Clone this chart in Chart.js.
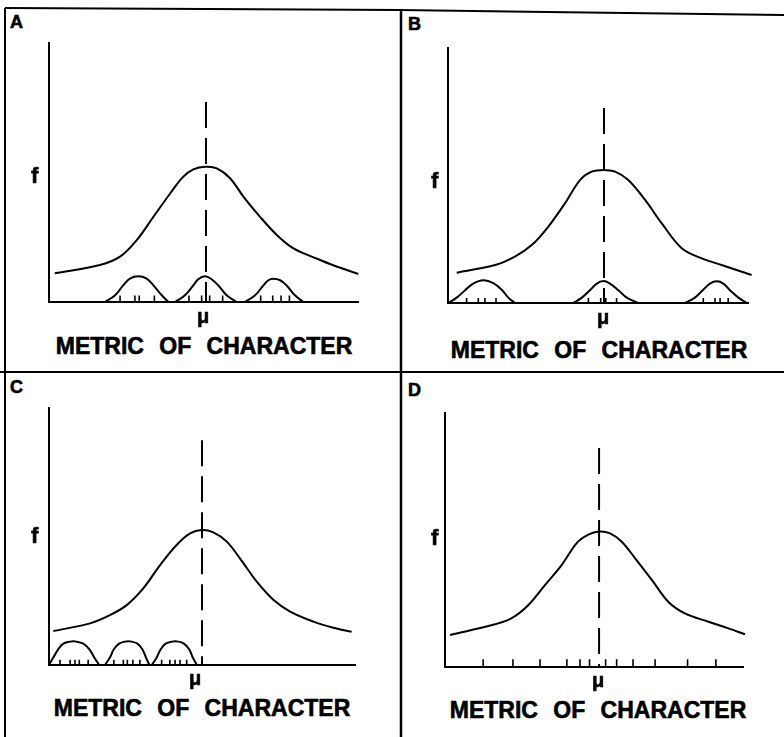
<!DOCTYPE html>
<html><head><meta charset="utf-8">
<script src="https://cdn.jsdelivr.net/npm/chart.js@4/dist/chart.umd.min.js"></script>
<style>
html,body{margin:0;padding:0;background:#fff;}
#wrap{position:relative;width:784px;height:737px;overflow:hidden;font-family:"Liberation Sans",Arial,sans-serif;font-weight:bold;color:#000;}
canvas{position:absolute;}
svg{position:absolute;left:0;top:0;}
.lbl{position:absolute;line-height:1;white-space:nowrap;-webkit-text-stroke:0.6px #000;}
.panel{font-size:18px;}
.f{font-size:22px;}
.mu{font-size:20px;transform:translateX(-50%);}
.title{font-size:23px;word-spacing:9px;transform:translateX(-50%);}
</style></head>
<body>
<div id="wrap">
<svg width="784" height="737">
  <polyline points="5,8 400,10 784,15" fill="none" stroke="#000" stroke-width="2"/>
  <line x1="5" y1="8" x2="5" y2="737" stroke="#000" stroke-width="2"/>
  <line x1="401" y1="9" x2="401" y2="737" stroke="#000" stroke-width="2.5"/>
  <line x1="0" y1="372" x2="784" y2="372" stroke="#000" stroke-width="2"/>
</svg>
<canvas id="cA"></canvas><canvas id="cB"></canvas><canvas id="cC"></canvas><canvas id="cD"></canvas>
<div class="lbl panel" style="left:10px;top:13px">A</div>
<div class="lbl panel" style="left:408px;top:15px">B</div>
<div class="lbl panel" style="left:10px;top:378px">C</div>
<div class="lbl panel" style="left:408px;top:381px">D</div>
<div class="lbl f" style="left:31px;top:165px">f</div>
<div class="lbl f" style="left:431px;top:170px">f</div>
<div class="lbl f" style="left:31px;top:525px">f</div>
<div class="lbl f" style="left:431px;top:527px">f</div>
<div class="lbl mu" style="left:203px;top:306px">μ</div>
<div class="lbl mu" style="left:603px;top:307px">μ</div>
<div class="lbl mu" style="left:195px;top:668px">μ</div>
<div class="lbl mu" style="left:598px;top:670px">μ</div>
<div class="lbl title" style="left:204px;top:335px">METRIC OF CHARACTER</div>
<div class="lbl title" style="left:599px;top:339px">METRIC OF CHARACTER</div>
<div class="lbl title" style="left:202px;top:697px">METRIC OF CHARACTER</div>
<div class="lbl title" style="left:598px;top:699px">METRIC OF CHARACTER</div>
</div>
<script>
// ---------- Panel A ----------
const curveA_x = [1.9, 16.5, 23.0, 28.4, 33.8, 39.2, 43.4, 46.7, 50.7, 54.3, 58.6, 62.9, 68.3, 73.8, 79.1, 86.6, 92.0, 100.1];
const curveA_y = [11.1, 14.3, 17.5, 23.9, 32.9, 41.9, 48.3, 51.2, 52.2, 51.6, 47.8, 40.7, 32.9, 25.8, 20.7, 16.8, 14.2, 10.8];
const bumpsA_x = [[18.1, 21.4, 24.0, 26.2, 28.9, 31.6, 33.8, 36.5, 38.6],
                  [40.8, 44.0, 46.7, 48.3, 50.5, 52.6, 54.8, 57.5, 60.7],
                  [63.4, 66.7, 69.4, 71.0, 72.6, 74.8, 76.9, 79.6, 82.3]];
const bumpsA_y = [[0, 2.6, 6.4, 9.0, 9.9, 9.0, 6.4, 2.6, 0],
                  [0, 2.6, 6.4, 8.8, 9.9, 8.8, 6.4, 2.6, 0],
                  [0, 2.6, 6.4, 8.4, 9.0, 8.4, 6.4, 2.6, 0]];
const ticksA = [23.0, 27.8, 29.2, 34.1, 45.3, 49.4, 52.0, 56.2, 68.5, 72.4, 75.1, 77.8];
const tickHeightA = 2.5;
const muA = 50.8;
const dashTopA = 77.2;

// ---------- Panel B ----------
const curveB_x = [2.9, 15.7, 22.3, 27.9, 33.4, 39.0, 44.0, 47.9, 51.8, 55.7, 60.1, 65.7, 71.2, 77.9, 84.6, 91.2, 101.2];
const curveB_y = [11.9, 14.9, 18.2, 22.7, 29.9, 39.1, 48.2, 51.5, 52.2, 51.5, 48.2, 40.4, 31.3, 21.5, 17.5, 14.9, 11.0];
const bumpsB_x = [[0.1, 2.9, 5.7, 8.4, 11.8, 15.1, 17.9, 20.1, 22.3],
                  [41.8, 44.6, 47.3, 49.6, 51.8, 54.0, 56.8, 59.6, 63.4],
                  [79.0, 82.3, 85.1, 87.3, 89.6, 91.8, 94.0, 96.8, 99.6]];
const bumpsB_y = [[0, 2.1, 5.0, 7.6, 8.9, 7.8, 5.2, 2.1, 0],
                  [0, 2.1, 5.0, 7.6, 8.6, 7.6, 5.0, 2.1, 0],
                  [0, 2.1, 5.2, 7.6, 8.5, 7.6, 5.0, 2.1, 0]];
const ticksB = [6.2, 10.1, 12.3, 16.0, 46.8, 50.9, 52.6, 56.2, 85.1, 89.0, 90.7, 93.4];
const tickHeightB = 2.0;
const muB = 52.0;
const dashTopB = 76.5;

// ---------- Panel C ----------
const curveC_x = [1.4, 13.4, 19.9, 25.4, 30.8, 36.3, 41.7, 46.1, 49.9, 53.7, 58.1, 62.4, 67.9, 73.3, 78.8, 86.4, 92.9, 98.9];
const curveC_y = [13.2, 16.2, 19.4, 23.3, 29.8, 38.9, 46.7, 51.2, 52.5, 51.6, 48.0, 41.5, 32.4, 25.4, 20.8, 16.9, 14.5, 12.9];
const bumpsC_x = [[0.0, 1.4, 3.0, 4.7, 6.9, 9.0, 11.2, 13.2, 14.8, 16.4],
                  [18.3, 19.9, 21.2, 22.9, 24.8, 27.0, 28.9, 30.5, 31.7, 32.8],
                  [33.6, 35.2, 36.5, 38.1, 40.1, 42.3, 44.1, 45.8, 47.0, 48.3]];
const bumpsC_y = [[0, 2.9, 6.1, 8.3, 9.1, 9.1, 8.3, 6.1, 2.9, 0],
                  [0, 2.9, 6.1, 8.3, 9.1, 9.1, 8.3, 6.1, 2.9, 0],
                  [0, 2.9, 6.1, 8.3, 9.1, 9.1, 8.3, 6.1, 2.9, 0]];
const ticksC = [3.6, 6.9, 8.5, 9.9, 12.8, 21.2, 24.3, 25.6, 27.4, 29.7, 36.8, 39.5, 41.2, 42.8, 45.0];
const tickHeightC = 2.0;
const muC = 50.0;
const dashTopC = 87.5;

// ---------- Panel D ----------
const curveD_x = [1.7, 16.8, 22.4, 28.0, 33.6, 39.2, 44.2, 48.1, 51.7, 55.4, 59.3, 63.8, 69.4, 74.9, 80.5, 88.4, 95.1, 100.7];
const curveD_y = [12.6, 16.8, 19.2, 24.4, 32.3, 40.2, 48.8, 52.1, 53.3, 52.6, 49.3, 42.8, 34.3, 25.7, 21.1, 17.8, 15.2, 12.9];
const bumpsD_x = [];
const bumpsD_y = [];
const ticksD = [12.8, 22.8, 31.9, 40.9, 45.3, 48.5, 53.9, 57.6, 63.1, 70.5, 81.4, 90.9];
const tickHeightD = 3.1;
const muD = 51.7;
const dashTopD = 86.2;

const PAD = 14;

function pts(xs, ys) { return xs.map((x, i) => ({x: x, y: ys[i]})); }

function makePanel(id, box, cx, cy, bx, by, ticks, tickH, mu, dashTop) {
  const cv = document.getElementById(id);
  const w = box.r - box.l + 2 * PAD, h = box.b - box.t + 2 * PAD;
  cv.width = w; cv.height = h;
  cv.style.left = (box.l - PAD) + 'px';
  cv.style.top = (box.t - PAD) + 'px';
  cv.style.width = w + 'px'; cv.style.height = h + 'px';

  const ds = [];
  ds.push({data: pts(cx, cy), borderColor: '#000', borderWidth: 2, tension: 0.35,
           pointRadius: 0, fill: false, clip: PAD, borderJoinStyle: 'round'});
  bx.forEach((xs, i) => {
    ds.push({data: pts(xs, by[i]), borderColor: '#000', borderWidth: 2, tension: 0.4,
             pointRadius: 0, fill: false, clip: PAD, borderJoinStyle: 'round'});
  });
  const tickData = [];
  ticks.forEach(t => { tickData.push({x: t, y: 0}, {x: t, y: tickH}, {x: t, y: null}); });
  ds.push({data: tickData, borderColor: '#000', borderWidth: 1.6, tension: 0,
           pointRadius: 0, fill: false, spanGaps: false, clip: PAD});
  ds.push({data: [{x: mu, y: dashTop}, {x: mu, y: 0}], borderColor: '#000', borderWidth: 2,
           borderDash: [26, 10], tension: 0, pointRadius: 0, fill: false, clip: PAD});

  const axis = {
    type: 'linear', min: 0, max: 100, display: true,
    ticks: {display: false},
    grid: {display: false, drawTicks: false},
    border: {display: true, color: '#000', width: 2},
    title: {display: false}
  };
  new Chart(cv, {
    type: 'line',
    data: {datasets: ds},
    options: {
      responsive: false, animation: false, devicePixelRatio: 1,
      layout: {padding: PAD},
      plugins: {legend: {display: false}, tooltip: {enabled: false}, title: {display: false}},
      events: [],
      scales: {x: Object.assign({}, axis), y: Object.assign({}, axis)}
    }
  });
}

makePanel('cA', {l: 49, r: 358, t: 43, b: 302}, curveA_x, curveA_y, bumpsA_x, bumpsA_y, ticksA, tickHeightA, muA, dashTopA);
makePanel('cB', {l: 448, r: 748, t: 48, b: 303}, curveB_x, curveB_y, bumpsB_x, bumpsB_y, ticksB, tickHeightB, muB, dashTopB);
makePanel('cC', {l: 49, r: 355, t: 408, b: 665}, curveC_x, curveC_y, bumpsC_x, bumpsC_y, ticksC, tickHeightC, muC, dashTopC);
makePanel('cD', {l: 445, r: 743, t: 413, b: 667}, curveD_x, curveD_y, bumpsD_x, bumpsD_y, ticksD, tickHeightD, muD, dashTopD);
</script>
</body></html>
